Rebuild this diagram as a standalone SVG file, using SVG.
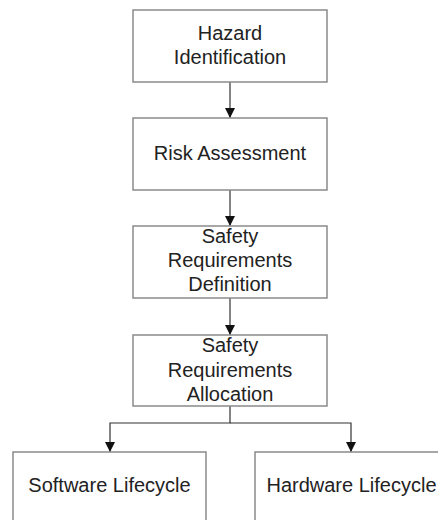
<svg xmlns="http://www.w3.org/2000/svg" width="438" height="520" viewBox="0 0 438 520">
  <style>
    .box { fill: #ffffff; stroke: #8a8a8a; stroke-width: 1.5; }
    .label { font-family: "Liberation Sans", Arial, sans-serif; font-size: 20px; fill: #222222; text-anchor: middle; }
    .wire { fill: none; stroke: #333333; stroke-width: 1.2; }
  </style>
  <defs>
    <marker id="arrow" viewBox="0 0 10 12" refX="10" refY="6" markerWidth="10" markerHeight="12" markerUnits="userSpaceOnUse" orient="auto">
      <path d="M0,1 L10,6 L0,11 Z" fill="#111111"/>
    </marker>
  </defs>
  <rect width="438" height="520" fill="#ffffff"/>

  <g id="connectors">
    <path class="wire" d="M230,82 V118" marker-end="url(#arrow)"/>
    <path class="wire" d="M230,190 V226" marker-end="url(#arrow)"/>
    <path class="wire" d="M230,298 V335" marker-end="url(#arrow)"/>
    <path class="wire" d="M230,406 V423 H110 V452" marker-end="url(#arrow)"/>
    <path class="wire" d="M230,423 H351 V452" marker-end="url(#arrow)"/>
  </g>

  <g id="hazard-identification">
    <rect class="box" x="133" y="10" width="194" height="72"/>
    <text class="label" x="230" y="40">Hazard</text>
    <text class="label" x="230" y="64">Identification</text>
  </g>

  <g id="risk-assessment">
    <rect class="box" x="133" y="118" width="194" height="72"/>
    <text class="label" x="230" y="160">Risk Assessment</text>
  </g>

  <g id="safety-requirements-definition">
    <rect class="box" x="133" y="226" width="194" height="72"/>
    <text class="label" x="230" y="243">Safety</text>
    <text class="label" x="230" y="267">Requirements</text>
    <text class="label" x="230" y="291">Definition</text>
  </g>

  <g id="safety-requirements-allocation">
    <rect class="box" x="133" y="335" width="194" height="71"/>
    <text class="label" x="230" y="352">Safety</text>
    <text class="label" x="230" y="377">Requirements</text>
    <text class="label" x="230" y="401">Allocation</text>
  </g>

  <g id="software-lifecycle">
    <rect class="box" x="13" y="452" width="193" height="90"/>
    <text class="label" x="109.5" y="492">Software Lifecycle</text>
  </g>

  <g id="hardware-lifecycle">
    <rect class="box" x="255" y="452" width="193" height="90"/>
    <text class="label" x="351.5" y="492">Hardware Lifecycle</text>
  </g>
</svg>
